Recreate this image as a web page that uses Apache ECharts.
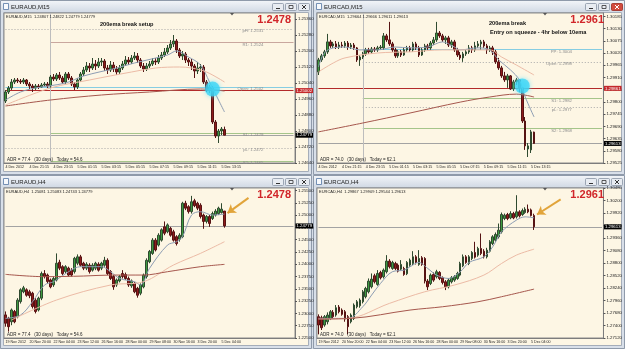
<!DOCTYPE html>
<html>
<head>
<meta charset="utf-8">
<title>EURAUD / EURCAD - 200ema break</title>
<script src="https://cdn.jsdelivr.net/npm/echarts@6/dist/echarts.min.js"></script>
<style>
  html, body { margin: 0; padding: 0; background: #d6dde7; overflow: hidden; }
  #chart { width: 625px; height: 349px; }
</style>
</head>
<body>
<div id="chart"></div>
<script>
// time labels, one every 8 bars
const m15TimeLabels = ['4 Dec 2012', '4 Dec 21:15', '4 Dec 23:15', '5 Dec 01:15', '5 Dec 03:15', '5 Dec 05:15', '5 Dec 07:15', '5 Dec 09:15', '5 Dec 11:15', '5 Dec 13:15'];
const h4TimeLabels = ['19 Nov 2012', '20 Nov 20:00', '22 Nov 04:00', '23 Nov 12:00', '26 Nov 16:00', '28 Nov 00:00', '29 Nov 08:00', '30 Nov 16:00', '3 Dec 20:00', '5 Dec 04:00'];

// ---------- EURAUD M15  [open, close, low, high] ----------
const eurAudM15Bars = [
  [1.24950,1.24995,1.24940,1.25005],[1.24995,1.25015,1.24985,1.25025],[1.25015,1.25045,1.25005,1.25060],[1.25045,1.25055,1.25035,1.25065],
  [1.25055,1.25050,1.25040,1.25065],[1.25050,1.25045,1.25035,1.25060],[1.25045,1.25055,1.25035,1.25065],[1.25055,1.25035,1.25025,1.25060],
  [1.25035,1.25025,1.25010,1.25045],[1.25025,1.25015,1.24995,1.25035],[1.25015,1.25025,1.25005,1.25035],[1.25025,1.25020,1.25010,1.25035],
  [1.25020,1.25030,1.25015,1.25040],[1.25030,1.25035,1.25020,1.25045],[1.25035,1.25025,1.25015,1.25045],[1.25025,1.25070,1.25015,1.25080],
  [1.25070,1.25060,1.25050,1.25085],[1.25060,1.25080,1.25050,1.25090],[1.25080,1.25065,1.25055,1.25095],[1.25065,1.25045,1.25035,1.25075],
  [1.25045,1.25085,1.25035,1.25095],[1.25085,1.25065,1.25055,1.25095],[1.25065,1.25035,1.25025,1.25075],[1.25035,1.25020,1.25005,1.25045],
  [1.25020,1.25055,1.25010,1.25065],[1.25055,1.25085,1.25045,1.25095],[1.25085,1.25105,1.25075,1.25120],[1.25105,1.25125,1.25095,1.25145],
  [1.25125,1.25115,1.25095,1.25140],[1.25115,1.25135,1.25105,1.25165],[1.25135,1.25125,1.25105,1.25155],[1.25125,1.25145,1.25115,1.25165],
  [1.25145,1.25150,1.25125,1.25165],[1.25150,1.25115,1.25100,1.25160],[1.25115,1.25105,1.25085,1.25130],[1.25105,1.25130,1.25095,1.25150],
  [1.25130,1.25110,1.25095,1.25145],[1.25110,1.25095,1.25080,1.25125],[1.25095,1.25115,1.25085,1.25130],[1.25115,1.25135,1.25105,1.25150],
  [1.25135,1.25155,1.25125,1.25175],[1.25155,1.25145,1.25130,1.25170],[1.25145,1.25165,1.25135,1.25180],[1.25165,1.25175,1.25155,1.25195],
  [1.25175,1.25155,1.25140,1.25190],[1.25155,1.25125,1.25115,1.25165],[1.25125,1.25110,1.25095,1.25140],[1.25110,1.25125,1.25100,1.25140],
  [1.25125,1.25135,1.25115,1.25150],[1.25135,1.25150,1.25125,1.25165],[1.25150,1.25145,1.25130,1.25165],[1.25145,1.25165,1.25135,1.25180],
  [1.25165,1.25180,1.25155,1.25195],[1.25180,1.25195,1.25170,1.25215],[1.25195,1.25215,1.25185,1.25230],[1.25215,1.25235,1.25205,1.25255],
  [1.25235,1.25250,1.25220,1.25280],[1.25250,1.25205,1.25190,1.25260],[1.25205,1.25175,1.25165,1.25215],[1.25175,1.25185,1.25155,1.25200],
  [1.25185,1.25155,1.25140,1.25195],[1.25155,1.25145,1.25125,1.25165],[1.25145,1.25125,1.25105,1.25160],[1.25125,1.25100,1.25065,1.25135],
  [1.25100,1.25115,1.25085,1.25145],[1.25115,1.25120,1.25095,1.25135],[1.25120,1.25045,1.25035,1.25130],[1.25045,1.25005,1.24995,1.25055],
  [1.25005,1.25020,1.24990,1.25030],[1.25015,1.24845,1.24835,1.25025],[1.24845,1.24775,1.24765,1.24855],[1.24775,1.24800,1.24740,1.24810],
  [1.24800,1.24810,1.24780,1.24820],[1.24807,1.24779,1.24779,1.24822]
];
const eurAudM15Ema10 = [[0,1.24955],[5,1.24995],[10,1.25015],[20,1.25040],[26,1.25075],[37,1.25115],[43,1.25140],[54,1.25180],[57,1.25200],[61,1.25170],[65,1.25130],[68,1.25045],[71,1.24955],[73,1.24895]];
const eurAudM15Ema50 = [[0,1.24930],[15,1.25015],[28,1.25055],[42,1.25095],[50,1.25115],[58,1.25120],[62,1.25115],[67,1.25095],[73,1.25045]];
const eurAudM15Ema200 = [[0,1.24925],[15,1.24955],[32,1.24980],[48,1.24995],[65,1.25010],[73,1.25000]];
const eurAudM15Pivots = { R2: 1.25376, pH: 1.2531, R1: 1.25242, Open: 1.2502, S1: 1.2479, pL: 1.24716, S2: 1.2465 };
const eurAudM15RedLine = 1.25002;
const eurAudM15DayStart = 15;
const eurAudM15Squeeze = [69, 1.2501];

// ---------- EURCAD M15 ----------
const eurCadM15Bars = [
  [1.29935,1.29989,1.29921,1.29998],[1.29989,1.30007,1.29980,1.30016],[1.30007,1.30025,1.29998,1.30034],[1.30025,1.30070,1.30016,1.30106],
  [1.30070,1.30052,1.30043,1.30079],[1.30052,1.30061,1.30043,1.30070],[1.30061,1.30047,1.30038,1.30074],[1.30047,1.30056,1.30038,1.30070],
  [1.30056,1.30052,1.30043,1.30070],[1.30052,1.30065,1.30043,1.30074],[1.30065,1.30047,1.30034,1.30074],[1.30047,1.30056,1.30038,1.30065],
  [1.30056,1.30043,1.30034,1.30065],[1.30043,1.29989,1.29980,1.30047],[1.29989,1.30002,1.29962,1.30011],[1.30002,1.30016,1.29993,1.30025],
  [1.30016,1.30034,1.30007,1.30043],[1.30034,1.30025,1.30016,1.30043],[1.30025,1.30038,1.30016,1.30047],[1.30038,1.30034,1.30025,1.30047],
  [1.30034,1.30043,1.30025,1.30052],[1.30043,1.30047,1.30034,1.30056],[1.30043,1.30097,1.30034,1.30110],[1.30097,1.30079,1.30070,1.30106],
  [1.30079,1.30061,1.30052,1.30160],[1.30061,1.30034,1.30025,1.30070],[1.30034,1.30007,1.29998,1.30043],[1.30007,1.30025,1.29998,1.30034],
  [1.30025,1.30011,1.30002,1.30034],[1.30011,1.30034,1.30007,1.30043],[1.30034,1.30043,1.30025,1.30052],[1.30043,1.30034,1.30025,1.30052],
  [1.30034,1.30061,1.30025,1.30070],[1.30061,1.30043,1.30034,1.30070],[1.30043,1.30011,1.30002,1.30052],[1.30011,1.30034,1.30007,1.30043],
  [1.30034,1.30052,1.30025,1.30061],[1.30052,1.30043,1.30034,1.30061],[1.30043,1.30065,1.30034,1.30074],[1.30065,1.30079,1.30056,1.30092],
  [1.30079,1.30110,1.30070,1.30160],[1.30110,1.30097,1.30088,1.30119],[1.30097,1.30079,1.30070,1.30106],[1.30079,1.30088,1.30061,1.30097],
  [1.30088,1.30056,1.30047,1.30097],[1.30056,1.30070,1.30043,1.30079],[1.30070,1.30034,1.30025,1.30079],[1.30034,1.30011,1.30002,1.30043],
  [1.30011,1.29998,1.29989,1.30025],[1.29998,1.30016,1.29980,1.30025],[1.30016,1.30025,1.30007,1.30034],[1.30025,1.30043,1.30016,1.30056],
  [1.30043,1.30034,1.30020,1.30052],[1.30034,1.30052,1.30025,1.30070],[1.30052,1.30061,1.30043,1.30074],[1.30061,1.30070,1.30034,1.30079],
  [1.30070,1.30052,1.30043,1.30079],[1.30052,1.30034,1.30016,1.30061],[1.30034,1.30043,1.30025,1.30052],[1.30043,1.30025,1.30011,1.30052],
  [1.30025,1.29980,1.29971,1.30034],[1.29980,1.29953,1.29944,1.29998],[1.29953,1.29917,1.29908,1.29962],[1.29917,1.29899,1.29890,1.29935],
  [1.29899,1.29917,1.29863,1.29926],[1.29917,1.29858,1.29854,1.29921],[1.29858,1.29890,1.29849,1.29899],[1.29890,1.29899,1.29876,1.29908],
  [1.29899,1.29863,1.29845,1.29903],[1.29863,1.29714,1.29705,1.29867],[1.29714,1.29602,1.29584,1.29732],[1.29588,1.29602,1.29552,1.29615],
  [1.29584,1.29665,1.29570,1.29674],[1.29664,1.29613,1.29611,1.29666]
];
const eurCadM15Ema10 = [[0,1.29957],[2,1.30020],[5,1.30043],[9,1.30047],[14,1.30034],[20,1.30034],[26,1.30047],[31,1.30043],[37,1.30047],[42,1.30070],[46,1.30047],[48,1.30034],[54,1.30043],[58,1.30034],[61,1.29989],[65,1.29944],[68,1.29899],[70,1.29822],[73,1.29732]];
const eurCadM15Ema50 = [[0,1.29935],[5,1.29975],[9,1.29998],[20,1.30020],[31,1.30025],[42,1.30034],[58,1.30034],[62,1.30002],[67,1.29966],[73,1.29921]];
const eurCadM15Ema200 = [[0,1.29665],[15,1.29705],[31,1.29750],[48,1.29799],[58,1.29822],[67,1.29835],[73,1.29822]];
const eurCadM15Pivots = { PP: 1.30036, Open: 1.2998, S1: 1.29816, pL: 1.29775, S2: 1.29681 };
const eurCadM15RedLine = 1.29861;
const eurCadM15DayStart = 15;
const eurCadM15Squeeze = [69, 1.29872];

// ---------- EURAUD H4 ----------
const eurAudH4Bars = [
  [1.2297,1.2280,1.2273,1.2304],[1.2290,1.2273,1.2263,1.2293],[1.2283,1.2307,1.2276,1.2310],[1.2304,1.2283,1.2280,1.2307],
  [1.2293,1.2327,1.2290,1.2331],[1.2324,1.2348,1.2320,1.2351],[1.2344,1.2352,1.2341,1.2356],[1.2348,1.2337,1.2334,1.2351],
  [1.2344,1.2336,1.2331,1.2348],[1.2341,1.2314,1.2310,1.2344],[1.2327,1.2304,1.2300,1.2331],[1.2307,1.2331,1.2304,1.2334],
  [1.2331,1.2381,1.2327,1.2385],[1.2381,1.2375,1.2371,1.2388],[1.2378,1.2365,1.2361,1.2381],[1.2368,1.2354,1.2351,1.2371],
  [1.2358,1.2371,1.2354,1.2375],[1.2368,1.2402,1.2365,1.2422],[1.2404,1.2392,1.2388,1.2409],[1.2395,1.2381,1.2378,1.2398],
  [1.2385,1.2395,1.2381,1.2398],[1.2392,1.2378,1.2375,1.2395],[1.2388,1.2378,1.2375,1.2392],[1.2385,1.2412,1.2381,1.2415],
  [1.2402,1.2415,1.2398,1.2420],[1.2415,1.2398,1.2395,1.2419],[1.2402,1.2392,1.2388,1.2405],[1.2392,1.2400,1.2388,1.2404],
  [1.2398,1.2385,1.2381,1.2402],[1.2388,1.2398,1.2385,1.2402],[1.2392,1.2402,1.2388,1.2405],[1.2400,1.2388,1.2385,1.2404],
  [1.2392,1.2402,1.2388,1.2405],[1.2398,1.2408,1.2395,1.2415],[1.2408,1.2381,1.2378,1.2412],[1.2385,1.2371,1.2368,1.2388],
  [1.2375,1.2354,1.2348,1.2378],[1.2358,1.2368,1.2354,1.2371],[1.2366,1.2375,1.2363,1.2378],[1.2381,1.2375,1.2371,1.2388],
  [1.2379,1.2371,1.2368,1.2383],[1.2371,1.2358,1.2354,1.2375],[1.2356,1.2366,1.2352,1.2369],[1.2361,1.2344,1.2341,1.2364],
  [1.2351,1.2337,1.2332,1.2354],[1.2341,1.2358,1.2337,1.2361],[1.2354,1.2378,1.2351,1.2381],[1.2375,1.2408,1.2371,1.2412],
  [1.2405,1.2426,1.2402,1.2429],[1.2422,1.2449,1.2419,1.2453],[1.2449,1.2429,1.2426,1.2453],[1.2439,1.2459,1.2436,1.2463],
  [1.2449,1.2470,1.2446,1.2473],[1.2476,1.2463,1.2459,1.2487],[1.2466,1.2480,1.2463,1.2483],[1.2473,1.2459,1.2456,1.2476],
  [1.2466,1.2449,1.2446,1.2470],[1.2456,1.2442,1.2438,1.2459],[1.2451,1.2459,1.2446,1.2463],[1.2456,1.2524,1.2453,1.2527],
  [1.2524,1.2514,1.2510,1.2529],[1.2517,1.2507,1.2503,1.2520],[1.2507,1.2527,1.2503,1.2539],[1.2529,1.2519,1.2516,1.2533],
  [1.2524,1.2514,1.2510,1.2527],[1.2520,1.2497,1.2493,1.2524],[1.2500,1.2487,1.2472,1.2503],[1.2487,1.2497,1.2483,1.2500],
  [1.2497,1.2483,1.2476,1.2500],[1.2493,1.2503,1.2490,1.2507],[1.2500,1.2508,1.2497,1.2512],[1.2503,1.2514,1.2500,1.2517],
  [1.2505,1.2512,1.2503,1.2524],[1.25081,1.24779,1.24743,1.25083]
];
const eurAudH4Ema10 = [[0,1.22899],[5,1.22966],[9,1.23238],[13,1.23577],[16,1.23644],[21,1.23848],[25,1.23950],[32,1.23950],[35,1.23848],[38,1.23712],[43,1.23644],[45,1.23577],[48,1.23916],[54,1.24390],[57,1.24458],[59,1.24560],[62,1.25000],[65,1.25068],[69,1.25000],[73,1.25020]];
const eurAudH4Ema50 = [[2,1.22866],[17,1.23272],[35,1.23577],[46,1.23644],[56,1.23984],[65,1.24221],[73,1.24458]];
const eurAudH4Ema200 = [[0,1.23794],[13,1.23747],[26,1.23760],[35,1.23780],[46,1.23780],[54,1.23848],[65,1.23950],[73,1.23997]];
const eurAudH4Arrow = [[81, 1.2535], [74, 1.2504]];

// ---------- EURCAD H4 ----------
const eurCadH4Bars = [
  [1.27598,1.27411,1.27202,1.27650],[1.27575,1.27351,1.27299,1.27620],[1.27411,1.27598,1.27373,1.27635],[1.27485,1.27635,1.27426,1.27695],
  [1.27560,1.27709,1.27523,1.27747],[1.27695,1.27598,1.27560,1.27747],[1.27635,1.27799,1.27598,1.27859],[1.27814,1.27709,1.27672,1.27859],
  [1.27747,1.27650,1.27620,1.27784],[1.27709,1.27545,1.27485,1.27747],[1.27598,1.27373,1.27202,1.27635],[1.27485,1.27635,1.27448,1.27672],
  [1.27560,1.27859,1.27523,1.27896],[1.27821,1.27933,1.27784,1.27971],[1.27844,1.27971,1.27799,1.28008],[1.27933,1.28157,1.27896,1.28195],
  [1.28046,1.28232,1.28008,1.28269],[1.28157,1.28396,1.28120,1.28456],[1.28269,1.28441,1.28232,1.28568],[1.28516,1.28381,1.28344,1.28561],
  [1.28322,1.28568,1.28292,1.28643],[1.28591,1.28471,1.28434,1.28628],[1.28494,1.28643,1.28456,1.28680],[1.28606,1.28845,1.28568,1.28979],
  [1.28845,1.28718,1.28680,1.28889],[1.28680,1.28815,1.28650,1.28852],[1.28792,1.28680,1.28643,1.28830],[1.28755,1.28620,1.28591,1.28792],
  [1.28665,1.28770,1.28635,1.28867],[1.28680,1.28546,1.28516,1.28718],[1.28561,1.28815,1.28531,1.28845],[1.28755,1.28867,1.28718,1.28904],
  [1.28792,1.28942,1.28755,1.29068],[1.28942,1.28815,1.28770,1.28979],[1.28770,1.28904,1.28740,1.29091],[1.28919,1.28770,1.28740,1.28957],
  [1.28904,1.28396,1.28344,1.28934],[1.28396,1.28269,1.28195,1.28441],[1.28344,1.28531,1.28307,1.28568],[1.28546,1.28419,1.28381,1.28591],
  [1.28494,1.28606,1.28456,1.28650],[1.28591,1.28456,1.28419,1.28620],[1.28471,1.28367,1.28322,1.28501],[1.28381,1.28269,1.28195,1.28419],
  [1.28269,1.28419,1.28232,1.28456],[1.28381,1.28471,1.28344,1.28509],[1.28419,1.28494,1.28381,1.28531],[1.28456,1.28568,1.28426,1.28606],
  [1.28531,1.28792,1.28501,1.28830],[1.28740,1.28942,1.28710,1.28994],[1.28942,1.28815,1.28785,1.28979],[1.28792,1.28942,1.28755,1.28979],
  [1.28904,1.29039,1.28867,1.29068],[1.29039,1.28934,1.28904,1.29278],[1.28979,1.29128,1.28942,1.29166],[1.29128,1.29016,1.28979,1.29464],
  [1.29068,1.28942,1.28904,1.29113],[1.28942,1.29091,1.28904,1.29143],[1.29068,1.29278,1.29039,1.29315],[1.29240,1.29390,1.29203,1.29427],
  [1.29315,1.29442,1.29278,1.29487],[1.29390,1.29539,1.29352,1.29688],[1.29502,1.29890,1.29464,1.29935],[1.29800,1.29875,1.29763,1.29912],
  [1.29890,1.29800,1.29763,1.29927],[1.29815,1.29912,1.29785,1.29964],[1.29912,1.29815,1.29785,1.29950],[1.29838,1.29950,1.29800,1.30323],
  [1.29950,1.29860,1.29823,1.29987],[1.29890,1.29979,1.29860,1.30024],[1.29935,1.30009,1.29905,1.30054],[1.30009,1.29950,1.29920,1.30114],
  [1.29994,1.29867,1.29845,1.30024],[1.29867,1.29613,1.29544,1.29909]
];
const eurCadH4Ema10 = [[0,1.27560],[10,1.27560],[15,1.27821],[18,1.28083],[21,1.28344],[25,1.28606],[29,1.28643],[31,1.28718],[34,1.28815],[37,1.28680],[40,1.28531],[44,1.28456],[48,1.28606],[51,1.28815],[56,1.28942],[59,1.29166],[62,1.29502],[67,1.29763],[70,1.29838],[73,1.29815]];
const eurCadH4Ema50 = [[0,1.27545],[10,1.27560],[24,1.27896],[36,1.28157],[46,1.28307],[56,1.28531],[62,1.28792],[67,1.28979],[73,1.29113]];
const eurCadH4Ema200 = [[0,1.27545],[11,1.27560],[31,1.27747],[42,1.27821],[54,1.27933],[62,1.28046],[73,1.28217]];
const eurCadH4Arrow = [[82, 1.3023], [74, 1.2989]];

// price scales: [min, max, step]
const eurAudM15Scale = [1.2464, 1.2539, 0.0008];
const eurCadM15Scale = [1.29525, 1.30200, 0.00055];
const eurAudH4Scale = [1.2250, 1.2555, 0.0025];
const eurCadH4Scale = [1.2712, 1.30485, 0.0028];

const adrEurAud = 'ADR = 77.4   (30 days)   Today = 54.6';
const adrEurCad = 'ADR = 74.0   (30 days)   Today = 62.1';

const FONT = '"Liberation Sans", Arial, sans-serif';
const CREAM = '#fdf6e4';
const SLOTS = 97;
const slotCats = Array.from({ length: SLOTS }, (_, i) => String(i));

const LOOK = {
  dot: { color: '#a9a9a9', type: [1, 2], width: 1 },
  rose: { color: '#c9a79e', type: 'solid', width: 1 },
  cyan: { color: '#86cde2', type: 'solid', width: 1 },
  green: { color: '#a5c58a', type: 'solid', width: 1 },
  red: { color: '#b32a2a', type: 'solid', width: 1 },
  last: { color: '#a3a3a3', type: 'solid', width: 1 },
  sep: { color: '#bdbdbd', type: 'solid', width: 1 },
  none: { opacity: 0 }
};

function levelLabel(tag, price) {
  return {
    show: true, position: 'insideEndBottom', distance: [30, 0],
    formatter: tag + ': ' + price.toFixed(4),
    fontSize: 4.3, color: '#8c8c8c', fontFamily: FONT
  };
}
// horizontal level from a bar to the right edge (yAxis-only items misplace on candlesticks)
function pivotLine(tag, price, fromBar, look) {
  return [
    { coord: [fromBar, price], lineStyle: LOOK[look], label: levelLabel(tag, price) },
    { coord: [SLOTS - 1, price] }
  ];
}
function fullLine(tag, price, look) {
  return pivotLine(tag, price, 0, look);
}
function priceBox(price, look, bg) {
  return [
    {
      coord: [0, price], lineStyle: LOOK[look],
      label: {
        show: true, position: 'end', distance: 2, formatter: price.toFixed(5),
        backgroundColor: bg, color: '#fff', fontSize: 4.3, fontFamily: FONT, padding: [1, 1, 0, 1]
      }
    },
    { coord: [SLOTS - 1, price] }
  ];
}
function arrowLine(pts) {
  return [
    { coord: pts[0], symbol: 'none', lineStyle: { color: '#e1a43a', width: 2, type: 'solid' }, label: { show: false } },
    { coord: pts[1], symbol: 'arrow', symbolSize: 8 }
  ];
}

const lastOf = (bars) => bars[bars.length - 1];

const panels = [
  {
    title: 'EURAUD,M15', x0: 0, y0: 0, w: 312, h: 175, active: false,
    bars: eurAudM15Bars, ema: [eurAudM15Ema10, eurAudM15Ema50, eurAudM15Ema200],
    scale: eurAudM15Scale, times: m15TimeLabels, adr: adrEurAud, spot: eurAudM15Squeeze,
    marks: [
      fullLine('R2', eurAudM15Pivots.R2, 'none'),
      fullLine('pH', eurAudM15Pivots.pH, 'dot'),
      pivotLine('R1', eurAudM15Pivots.R1, eurAudM15DayStart, 'rose'),
      fullLine('Open', eurAudM15Pivots.Open, 'cyan'),
      priceBox(eurAudM15RedLine, 'red', '#c4282b'),
      pivotLine('S1', eurAudM15Pivots.S1, eurAudM15DayStart, 'green'),
      priceBox(lastOf(eurAudM15Bars)[1], 'last', '#000'),
      fullLine('pL', eurAudM15Pivots.pL, 'dot'),
      pivotLine('S2', eurAudM15Pivots.S2, eurAudM15DayStart, 'green'),
      { xAxis: eurAudM15DayStart, lineStyle: LOOK.sep, label: { show: false } }
    ],
    notes: [{ text: '200ema break setup', x: 100, y: 24 }]
  },
  {
    title: 'EURCAD,M15', x0: 313, y0: 0, w: 312, h: 175, active: true,
    bars: eurCadM15Bars, ema: [eurCadM15Ema10, eurCadM15Ema50, eurCadM15Ema200],
    scale: eurCadM15Scale, times: m15TimeLabels, adr: adrEurCad, spot: eurCadM15Squeeze,
    marks: [
      pivotLine('PP', eurCadM15Pivots.PP, eurCadM15DayStart, 'cyan'),
      pivotLine('Open', eurCadM15Pivots.Open, eurCadM15DayStart, 'dot'),
      priceBox(eurCadM15RedLine, 'red', '#c4282b'),
      pivotLine('S1', eurCadM15Pivots.S1, eurCadM15DayStart, 'green'),
      pivotLine('pL', eurCadM15Pivots.pL, eurCadM15DayStart, 'dot'),
      pivotLine('S2', eurCadM15Pivots.S2, eurCadM15DayStart, 'green'),
      priceBox(lastOf(eurCadM15Bars)[1], 'last', '#000'),
      { xAxis: eurCadM15DayStart, lineStyle: LOOK.sep, label: { show: false } }
    ],
    notes: [{ text: '200ema break', x: 176, y: 23 }, { text: 'Entry on squeeze - 4hr below 10ema', x: 177, y: 32 }]
  },
  {
    title: 'EURAUD,H4', x0: 0, y0: 175, w: 312, h: 174, active: false,
    bars: eurAudH4Bars, ema: [eurAudH4Ema10, eurAudH4Ema50, eurAudH4Ema200],
    scale: eurAudH4Scale, times: h4TimeLabels, adr: adrEurAud, spot: null,
    marks: [priceBox(lastOf(eurAudH4Bars)[1], 'last', '#000'), arrowLine(eurAudH4Arrow)],
    notes: []
  },
  {
    title: 'EURCAD,H4', x0: 313, y0: 175, w: 312, h: 174, active: false,
    bars: eurCadH4Bars, ema: [eurCadH4Ema10, eurCadH4Ema50, eurCadH4Ema200],
    scale: eurCadH4Scale, times: h4TimeLabels, adr: adrEurCad, spot: null,
    marks: [priceBox(lastOf(eurCadH4Bars)[1], 'last', '#000'), arrowLine(eurCadH4Arrow)],
    notes: []
  }
];

const emaColors = ['#8d9db3', '#ecbba6', '#a6574d'];

// window frame, title bar and buttons, like the terminal
function chrome(p) {
  const { x0, y0, w, h } = p;
  const els = [
    { type: 'rect', z: 0, silent: true, shape: { x: x0 + 0.5, y: y0 + 0.5, width: w - 1, height: h - 1 }, style: { fill: '#d8dfe9', stroke: '#8f9aaa', lineWidth: 1 } },
    { type: 'rect', z: 1, silent: true, shape: { x: x0 + 1, y: y0 + 1, width: w - 2, height: 11 },
      style: { fill: new echarts.graphic.LinearGradient(0, 0, 0, 1, [{ offset: 0, color: '#f1f4f8' }, { offset: 1, color: '#d2dae5' }]) } },
    { type: 'rect', z: 1, silent: true, shape: { x: x0 + 3.5, y: y0 + 12.5, width: w - 7, height: h - 16 }, style: { fill: CREAM, stroke: '#a5adb9', lineWidth: 1 } },
    { type: 'rect', z: 2, silent: true, shape: { x: x0 + 3.5, y: y0 + 3.5, width: 5, height: 6 }, style: { fill: '#f7f9fc', stroke: '#5677a3', lineWidth: 0.8 } },
    { type: 'text', z: 2, silent: true, style: { text: p.title, x: x0 + 11, y: y0 + 7, fontSize: 6, fontFamily: FONT, fill: '#1d1d1d', verticalAlign: 'middle' } }
  ];
  [w - 39, w - 26, w - 13].forEach((bx, k) => {
    const red = k === 2 && p.active;
    const bxa = x0 + bx;
    els.push({ type: 'rect', z: 2, silent: true, shape: { x: bxa - 0.5, y: y0 + 3.5, width: 11, height: 7, r: 1 },
      style: { fill: red ? '#d24b3e' : '#e8ecf2', stroke: red ? '#9b2a20' : '#8893a3', lineWidth: 0.8 } });
    const gc = red ? '#fff' : '#333';
    if (k === 0) els.push({ type: 'line', z: 3, silent: true, shape: { x1: bxa + 3, y1: y0 + 8.5, x2: bxa + 7, y2: y0 + 8.5 }, style: { stroke: gc, lineWidth: 1 } });
    if (k === 1) els.push({ type: 'rect', z: 3, silent: true, shape: { x: bxa + 3, y: y0 + 5.5, width: 4, height: 3 }, style: { fill: 'none', stroke: gc, lineWidth: 0.8 } });
    if (k === 2) {
      els.push({ type: 'line', z: 3, silent: true, shape: { x1: bxa + 3, y1: y0 + 5, x2: bxa + 7, y2: y0 + 9 }, style: { stroke: gc, lineWidth: 1 } });
      els.push({ type: 'line', z: 3, silent: true, shape: { x1: bxa + 7, y1: y0 + 5, x2: bxa + 3, y2: y0 + 9 }, style: { stroke: gc, lineWidth: 1 } });
    }
  });
  return els;
}

function overlays(p) {
  const { x0, y0 } = p;
  const b = lastOf(p.bars);
  const info = p.title + '  ' + [b[0], b[3], b[2], b[1]].map(v => v.toFixed(5)).join(' ');
  const els = [
    { type: 'text', z: 50, silent: true, style: { text: info, x: x0 + 6, y: y0 + 16.5, fontSize: 4, fontFamily: FONT, fill: '#222', verticalAlign: 'middle' } },
    { type: 'text', z: 50, silent: true, style: { text: p.adr, x: x0 + 7, y: y0 + 159.5, fontSize: 4.5, fontFamily: FONT, fill: '#222', verticalAlign: 'middle' } },
    { type: 'text', z: 50, silent: true, style: { text: b[1].toFixed(4), x: x0 + 291, y: y0 + 14, align: 'right', verticalAlign: 'top', fontSize: 11, fontWeight: 'bold', fontFamily: FONT, fill: '#d1262a' } },
    { type: 'polygon', z: 50, silent: true, shape: { points: [[x0 + 230, y0 + 13], [x0 + 234, y0 + 13], [x0 + 232, y0 + 15.5]] }, style: { fill: '#555' } }
  ];
  p.notes.forEach(n => {
    els.push({ type: 'text', z: 50, silent: true, style: { text: n.text, x: x0 + n.x, y: y0 + n.y, fontSize: 5.6, fontWeight: 'bold', fontFamily: FONT, fill: '#111', verticalAlign: 'middle' } });
  });
  return els;
}

const grids = [], xAxes = [], yAxes = [], series = [], graphics = [];

panels.forEach((p, k) => {
  const showTime = (i) => i % 8 === 0 && i / 8 < p.times.length;
  grids.push({ left: p.x0 + 4, top: p.y0 + 13, width: 291, height: 150, show: true, backgroundColor: CREAM, borderColor: '#8c8c8c', borderWidth: 1, z: 3 });
  xAxes.push({
    type: 'category', gridIndex: k, data: slotCats, boundaryGap: true, z: 4,
    axisLine: { lineStyle: { color: '#7d7d7d' } },
    axisTick: { alignWithLabel: true, length: 2, interval: showTime, lineStyle: { color: '#555' } },
    axisLabel: { interval: showTime, showMinLabel: true, formatter: (v, i) => p.times[i / 8] || '', fontSize: 3.6, color: '#222', fontFamily: FONT, margin: 2, align: 'left' },
    splitLine: { show: false }
  });
  yAxes.push({
    type: 'value', gridIndex: k, position: 'right', min: p.scale[0], max: p.scale[1], interval: p.scale[2], z: 4,
    axisLine: { show: true, lineStyle: { color: '#7d7d7d' } },
    axisTick: { show: true, length: 2, lineStyle: { color: '#555' } },
    axisLabel: { fontSize: 4.3, color: '#222', fontFamily: FONT, margin: 3, showMinLabel: true, showMaxLabel: false, formatter: v => v.toFixed(5) },
    splitLine: { show: false }
  });
  series.push({
    type: 'candlestick', xAxisIndex: k, yAxisIndex: k, data: p.bars, barWidth: 2, z: 6,
    itemStyle: { color: '#3d9a3f', color0: '#8e1b1b', borderColor: '#2f4a2f', borderColor0: '#561313', borderWidth: 1 },
    markLine: { silent: true, symbol: ['none', 'none'], animation: false, data: p.marks }
  });
  p.ema.forEach((line, j) => {
    series.push({
      type: 'line', xAxisIndex: k, yAxisIndex: k, data: line, smooth: 0.35, showSymbol: false, symbol: 'none',
      lineStyle: { width: 1, color: emaColors[j] }, z: 7, silent: true
    });
  });
  if (p.spot) {
    series.push({
      type: 'scatter', xAxisIndex: k, yAxisIndex: k, data: [p.spot], symbolSize: 15, z: 8, silent: true,
      itemStyle: { color: 'rgba(52, 212, 245, 0.92)', shadowBlur: 5, shadowColor: '#63e2ff' }
    });
  }
  graphics.push(...chrome(p), ...overlays(p));
});

const chart = echarts.init(document.getElementById('chart'), null, { renderer: 'canvas' });
chart.setOption({
  animation: false,
  backgroundColor: '#d6dde7',
  grid: grids,
  xAxis: xAxes,
  yAxis: yAxes,
  series: series,
  graphic: { elements: graphics }
});
</script>
</body>
</html>
